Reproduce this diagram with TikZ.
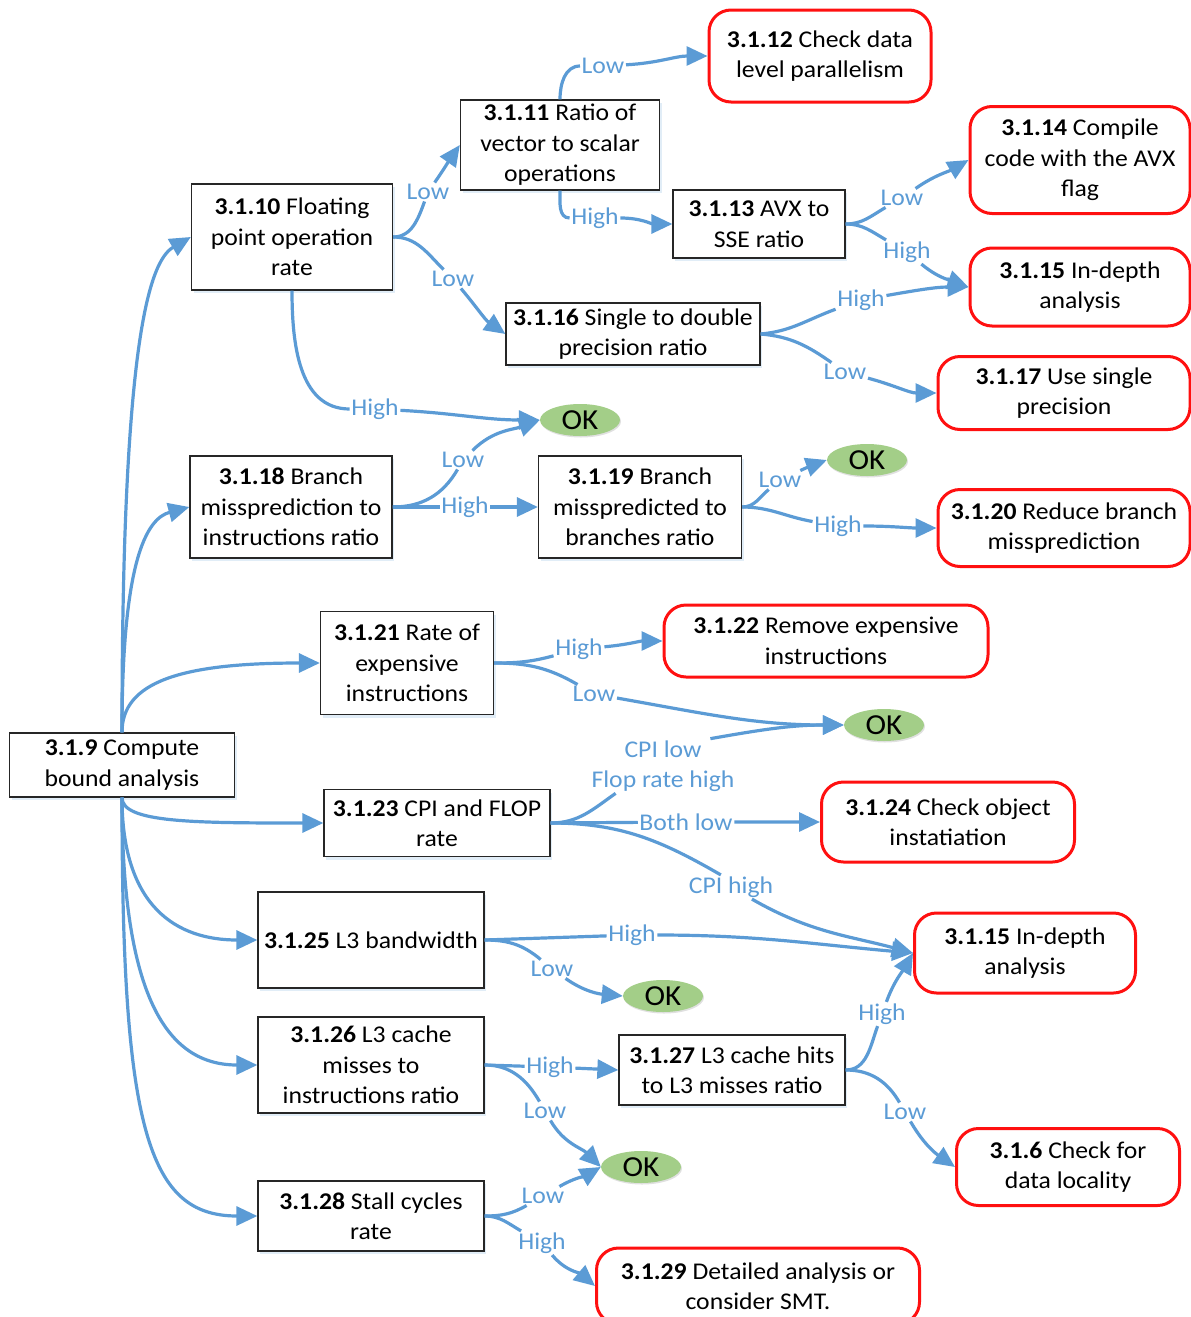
\documentclass[tikz,border=0pt]{standalone}
\usepackage{fontspec}
\setmainfont{Carlito}[FakeStretch=1.07]
\usetikzlibrary{arrows.meta,shapes.geometric,shadows}
\definecolor{eblue}{HTML}{5B9BD5}
\definecolor{lblue}{HTML}{5B9BD5}
\definecolor{okgreen}{HTML}{A3CE88}
\definecolor{rred}{HTML}{FF1010}
\newcommand{\boxfont}{\fontsize{24}{30.5}\selectfont}
\newcommand{\okfont}{\fontsize{29}{30}\selectfont}
\tikzset{
  box/.style={draw=black!85, line width=1.3pt, fill=white, align=center, inner sep=2pt, font=\boxfont,
    drop shadow={shadow xshift=2pt, shadow yshift=-3pt, fill=eblue, opacity=0.18}},
  redbox/.style={draw=rred, line width=3pt, rounded corners=22pt, fill=white, align=center, inner sep=2pt, font=\boxfont},
  okn/.style={ellipse, fill=okgreen, minimum width=80pt, minimum height=32pt, inner sep=0pt, font=\okfont,
    drop shadow={shadow xshift=1pt, shadow yshift=-1.5pt, fill=black, opacity=0.12}},
  lbl/.style={text=lblue, inner sep=1.5pt, font=\boxfont, align=center},
  edge/.style={draw=eblue, line width=3.2pt, -{Triangle[length=21pt,width=19pt]}}
}
\begin{document}
\begin{tikzpicture}[x=1pt,y=1pt]
\useasboundingbox (0,0) rectangle (1191,-1317);
% boxes
\node[box, minimum width=225pt, minimum height=64pt] (n39) at (122,-765) {\textbf{3.1.9} Compute\\bound analysis};
\node[box, minimum width=201pt, minimum height=106pt] (n310) at (292,-237) {\textbf{3.1.10} Floating\\point operation\\rate};
\node[box, minimum width=199pt, minimum height=90pt] (n311) at (560,-145) {\textbf{3.1.11} Ratio of\\vector to scalar\\operations};
\node[redbox, minimum width=222pt, minimum height=92pt] (n312) at (820,-56) {\textbf{3.1.12} Check data\\level parallelism};
\node[box, minimum width=172pt, minimum height=68pt] (n313) at (759,-224) {\textbf{3.1.13} AVX to\\SSE ratio};
\node[redbox, minimum width=220pt, minimum height=107pt] (n314) at (1080,-160) {\textbf{3.1.14} Compile\\code with the AVX\\flag};
\node[redbox, minimum width=220pt, minimum height=78pt] (n315) at (1080,-287) {\textbf{3.1.15} In-depth\\analysis};
\node[box, minimum width=254pt, minimum height=62pt] (n316) at (633,-334) {\textbf{3.1.16} Single to double\\precision ratio};
\node[redbox, minimum width=252pt, minimum height=73pt] (n317) at (1064,-393) {\textbf{3.1.17} Use single\\precision};
\node[okn] (ok1) at (580,-420) {OK};
\node[box, minimum width=202pt, minimum height=102pt] (n318) at (291,-507) {\textbf{3.1.18} Branch\\missprediction to\\instructions ratio};
\node[box, minimum width=203pt, minimum height=102pt] (n319) at (640,-507) {\textbf{3.1.19} Branch\\misspredicted to\\branches ratio};
\node[okn] (ok2) at (867,-460) {OK};
\node[redbox, minimum width=252pt, minimum height=77pt] (n320) at (1064,-528) {\textbf{3.1.20} Reduce branch\\missprediction};
\node[box, minimum width=173pt, minimum height=103pt] (n321) at (407,-663) {\textbf{3.1.21} Rate of\\expensive\\instructions};
\node[redbox, minimum width=324pt, minimum height=72pt] (n322) at (826,-641) {\textbf{3.1.22} Remove expensive\\instructions};
\node[okn] (ok3) at (884,-725) {OK};
\node[box, minimum width=226pt, minimum height=67pt] (n323) at (437,-823) {\textbf{3.1.23} CPI and FLOP\\rate};
\node[redbox, minimum width=253pt, minimum height=80pt] (n324) at (948,-822) {\textbf{3.1.24} Check object\\instatiation};
\node[redbox, minimum width=221pt, minimum height=80pt] (n315b) at (1025,-953) {\textbf{3.1.15} In-depth\\analysis};
\node[box, minimum width=226pt, minimum height=96pt] (n325) at (371,-940) {\textbf{3.1.25} L3 bandwidth};
\node[okn] (ok4) at (663,-996) {OK};
\node[box, minimum width=226pt, minimum height=96pt] (n326) at (371,-1065) {\textbf{3.1.26} L3 cache\\misses to\\instructions ratio};
\node[box, minimum width=226pt, minimum height=70pt] (n327) at (732,-1070) {\textbf{3.1.27} L3 cache hits\\to L3 misses ratio};
\node[okn] (ok5) at (641,-1167) {OK};
\node[redbox, minimum width=223pt, minimum height=77pt] (n36) at (1068,-1167) {\textbf{3.1.6} Check for\\data locality};
\node[box, minimum width=226pt, minimum height=70pt] (n328) at (371,-1216) {\textbf{3.1.28} Stall cycles\\rate};
\node[redbox, minimum width=323pt, minimum height=76pt] (n329) at (758,-1286) {\textbf{3.1.29} Detailed analysis or\\consider SMT.};
% labels
\node[lbl] (lA) at (603,-66) {Low};
\node[lbl] (lB) at (428,-192) {Low};
\node[lbl] (lC) at (595,-218) {High};
\node[lbl] (lD) at (453,-279) {Low};
\node[lbl] (lE) at (902,-198) {Low};
\node[lbl] (lF) at (907,-252) {High};
\node[lbl] (lG) at (861,-300) {High};
\node[lbl] (lH) at (845,-372) {Low};
\node[lbl] (lI) at (375,-409) {High};
\node[lbl] (lJ) at (463,-460) {Low};
\node[lbl] (lK) at (465,-507) {High};
\node[lbl] (lL) at (780,-480) {Low};
\node[lbl] (lM) at (838,-526) {High};
\node[lbl] (lN) at (579,-649) {High};
\node[lbl] (lO) at (594,-694) {Low};
\node[lbl] (lP) at (663,-766) {CPI low\\Flop rate high};
\node[lbl] (lQ) at (686,-822) {Both low};
\node[lbl] (lR) at (731,-887) {CPI high};
\node[lbl] (lS) at (632,-935) {High};
\node[lbl] (lT) at (552,-969) {Low};
\node[lbl] (lU) at (550,-1067) {High};
\node[lbl] (lV) at (545,-1111) {Low};
\node[lbl] (lW) at (882,-1014) {High};
\node[lbl] (lX) at (905,-1112) {Low};
\node[lbl] (lY) at (543,-1196) {Low};
\node[lbl] (lZ) at (542,-1243) {High};
% trunk edges
\draw[edge] (n39.north) .. controls +(90:380) and +(210:50) .. (n310.west);
\draw[edge] (n39.north) .. controls +(90:170) and +(195:45) .. (n318.west);
\draw[edge] (n39.north) .. controls +(90:50) and +(180:140) .. (n321.west);
\draw[edge] (n39.south) .. controls +(-90:25) and +(180:130) .. (n323.west);
\draw[edge] (n39.south) .. controls +(-90:110) and +(180:80) .. (n325.west);
\draw[edge] (n39.south) .. controls +(-90:200) and +(180:90) .. (n326.west);
\draw[edge] (n39.south) .. controls +(-90:330) and +(180:110) .. (n328.west);
% branch edges
\draw[edge] (n310.east) to[out=0,in=-110] (lB) to[out=55,in=235] (n311.west);
\draw[edge] (n310.east) to[out=0,in=135] (lD) to[out=-50,in=145] (n316.west);
\draw[edge] (n310.south) to[out=-90,in=180] (lI) to[out=-3,in=180] (ok1.west);
\draw[edge] (n311.north) to[out=90,in=180] (lA) to[out=3,in=180] (n312.west);
\draw[edge] (n311.south) to[out=-90,in=180] (lC) to[out=0,in=180] (n313.west);
\draw[edge] (n313.east) to[out=0,in=210] (lE) to[out=35,in=210] (n314.west);
\draw[edge] (n313.east) to[out=0,in=150] (lF) to[out=-40,in=160] (n315.west);
\draw[edge] (n316.east) to[out=5,in=200] (lG) to[out=10,in=180] (n315.west);
\draw[edge] (n316.east) to[out=-5,in=145] (lH) to[out=-15,in=180] (n317.west);
\draw[edge] (n318.east) to[out=0,in=-120] (lJ) to[out=45,in=200] (ok1.west);
\draw[edge] (n318.east) -- (lK) -- (n319.west);
\draw[edge] (n319.east) to[out=0,in=-140] (lL) to[out=25,in=200] (ok2.west);
\draw[edge] (n319.east) to[out=0,in=170] (lM) to[out=0,in=180] (n320.west);
\draw[edge] (n321.east) to[out=0,in=195] (lN) to[out=5,in=180] (n322.west);
\draw[edge] (n321.east) to[out=0,in=150] (lO) to[out=-10,in=180] (ok3.west);
\draw[edge] (n323.east) to[out=0,in=-145] (lP.-150) (lP.30) to[out=10,in=180] (ok3.west);
\draw[edge] (n323.east) -- (lQ) -- (n324.west);
\draw[edge] (n323.east) to[out=0,in=150] (lR.130) (lR.-30) to[out=-30,in=165] (n315b.west);
\draw[edge] (n325.east) -- (lS) to[out=0,in=175] (n315b.west);
\draw[edge] (n325.east) to[out=0,in=140] (lT) to[out=-35,in=175] (ok4.west);
\draw[edge] (n326.east) -- (lU) -- (n327.west);
\draw[edge] (n326.east) to[out=0,in=120] (lV) to[out=-60,in=135] (ok5.west);
\draw[edge] (n327.east) to[out=0,in=-110] (lW) to[out=70,in=240] (n315b.west);
\draw[edge] (n327.east) to[out=0,in=120] (lX) to[out=-60,in=145] (n36.west);
\draw[edge] (n328.east) to[out=0,in=-150] (lY) to[out=30,in=210] (ok5.west);
\draw[edge] (n328.east) to[out=0,in=150] (lZ) to[out=-50,in=140] (n329.west);
\end{tikzpicture}
\end{document}
